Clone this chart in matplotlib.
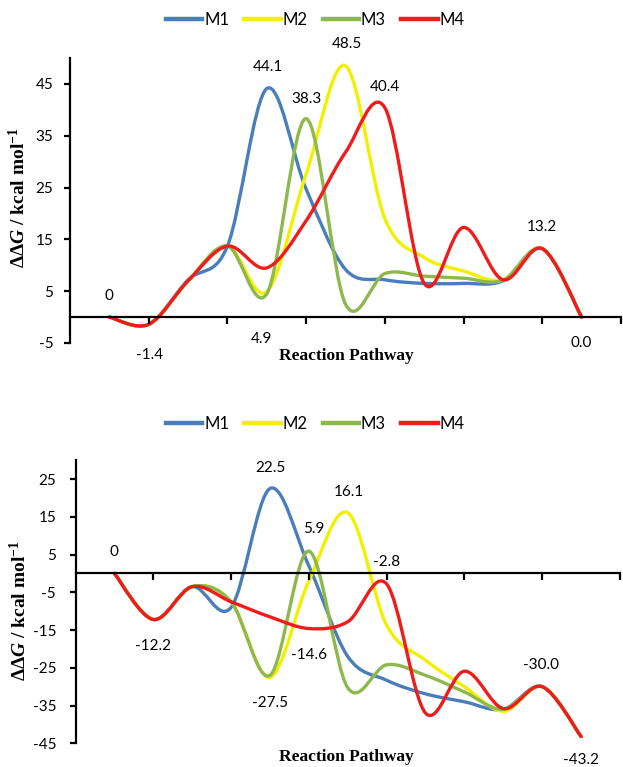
import matplotlib
matplotlib.use("Agg")
import matplotlib.pyplot as plt
import numpy as np
from matplotlib.path import Path
from matplotlib.patches import PathPatch
from matplotlib.lines import Line2D

# ---------------- data ----------------
series_names = ["M1", "M2", "M3", "M4"]
colors = ["#4A7EBB", "#F2F000", "#8DB84E", "#F01C1C"]

top_M1 = [0, -1.4, 7.2, 13.7, 44.1, 24.7, 9.2, 7.2, 6.5, 6.5, 7.0, 13.2, 0.0]
top_M2 = [0, -1.4, 7.0, 13.7, 4.9, 27.6, 48.5, 19.0, 11.5, 8.9, 7.2, 13.2, 0.0]
top_M3 = [0, -1.4, 7.0, 13.7, 4.5, 38.3, 2.5, 8.4, 7.9, 7.5, 7.1, 13.2, 0.0]
top_M4 = [0, -1.4, 7.0, 13.7, 9.5, 18.6, 31.8, 40.4, 6.5, 17.3, 7.2, 13.2, 0.0]

bot_M1 = [0, -12.2, -3.5, -9.0, 22.5, 2.0, -22.0, -28.3, -31.9, -34.0, -36.0, -30.0, -43.2]
bot_M2 = [0, -12.2, -3.5, -7.5, -27.5, -2.0, 16.1, -13.7, -23.0, -30.0, -36.5, -30.0, -43.2]
bot_M3 = [0, -12.2, -3.5, -7.5, -27.0, 5.9, -30.3, -24.2, -27.0, -31.4, -36.0, -30.0, -43.2]
bot_M4 = [0, -12.2, -3.5, -7.5, -11.5, -14.6, -12.8, -2.8, -37.0, -25.9, -35.8, -30.0, -43.2]

top_labels = [("0", 0, 4.1), ("-1.4", 1.03, -7.3), ("4.9", 3.87, -4.2), ("44.1", 4.03, 48.2),
              ("38.3", 5.0, 42.0), ("48.5", 6.03, 52.7), ("40.4", 7.0, 44.5),
              ("13.2", 11.0, 17.4), ("0.0", 12.0, -5.0)]
bot_labels = [("0", 0, 5.7), ("-12.2", 0.99, -19.3), ("22.5", 4.0, 28.0), ("16.1", 6.03, 21.6),
              ("5.9", 5.13, 11.7), ("-2.8", 6.99, 3.1), ("-14.6", 5.0, -21.7),
              ("-27.5", 4.0, -34.3), ("-30.0", 10.97, -24.3), ("-43.2", 11.99, -49.5)]

top_yticks = [-5, 5, 15, 25, 35, 45]
bot_yticks = [-45, -35, -25, -15, -5, 5, 15, 25]

# ---------------- style ----------------
plt.rcParams["mathtext.fontset"] = "custom"
plt.rcParams["mathtext.rm"] = "Liberation Serif:bold"
plt.rcParams["mathtext.bf"] = "Liberation Serif:bold"
plt.rcParams["mathtext.it"] = "Liberation Serif:italic:bold"
plt.rcParams["font.family"] = ["Lato", "DejaVu Sans"]

W, H = 623, 767
fig = plt.figure(figsize=(W / 100, H / 100), dpi=100)


def smooth_path(xs, ys):
    pts = np.column_stack([xs, ys]).astype(float)
    n = len(pts)
    verts = [pts[0]]
    codes = [Path.MOVETO]
    for i in range(n - 1):
        p_prev = pts[max(i - 1, 0)]
        p0 = pts[i]
        p1 = pts[i + 1]
        p_next = pts[min(i + 2, n - 1)]
        c1 = p0 + (p1 - p_prev) / 6.0
        c2 = p1 - (p_next - p0) / 6.0
        verts += [c1, c2, p1]
        codes += [Path.CURVE4] * 3
    return Path(verts, codes)


def make_panel(rect, data, ylim, yticks, labels, ypad, legend_y, label_xy):
    ax = fig.add_axes(rect)
    x = np.arange(len(data[0]))
    for ys, c in zip(data, colors):
        patch = PathPatch(smooth_path(x, ys), facecolor="none", edgecolor=c,
                          lw=2.4, capstyle="round", joinstyle="round")
        ax.add_patch(patch)
    ax.set_xlim(-1, 13)
    ax.set_ylim(*ylim)
    ax.set_yticks(yticks)
    ax.set_yticklabels([str(t) for t in yticks])
    ax.set_xticks([1, 3, 5, 7, 9, 11, 13])
    ax.set_xticklabels([])
    for s in ["top", "right"]:
        ax.spines[s].set_visible(False)
    ax.spines["bottom"].set_position(("data", 0))
    ax.spines["left"].set_linewidth(1.6)
    ax.spines["bottom"].set_linewidth(1.6)
    ax.tick_params(axis="y", direction="out", length=4, width=1.6, pad=ypad,
                   labelsize=11, colors="black")
    ax.tick_params(axis="x", direction="out", length=5, width=1.6)
    for txt, xx, yy in labels:
        ax.text(xx, yy, txt, ha="center", va="center", fontsize=11, clip_on=False)
    ax.set_ylabel(r"$\Delta\Delta G$ / kcal mol$^{-1}$", fontsize=14,
                  fontfamily="Liberation Serif", fontweight="bold")
    ax.yaxis.set_label_coords(*label_xy)
    handles = [Line2D([], [], color=c, lw=3.2) for c in colors]
    fig.legend(handles, series_names, loc="center", ncol=4, frameon=False,
               bbox_to_anchor=(315 / W, 1 - legend_y / H), fontsize=12,
               handlelength=2.2, handletextpad=0.1, columnspacing=0.9)
    return ax


ax1 = make_panel([70 / W, 1 - 343 / H, 551 / W, 285 / H],
                 [top_M1, top_M2, top_M3, top_M4], (-5, 50), top_yticks,
                 top_labels, 8, 20, (-0.075, 0.51))
fig.text(346 / W, 1 - 356 / H, "Reaction Pathway", ha="center", va="center",
         fontsize=12.5, fontfamily="Liberation Serif", fontweight="bold")

ax2 = make_panel([75.5 / W, 1 - 743.3 / H, 544.5 / W, 283.1 / H],
                 [bot_M1, bot_M2, bot_M3, bot_M4], (-45, 30), bot_yticks,
                 bot_labels, 10, 424, (-0.084, 0.47))
fig.text(346 / W, 1 - 757 / H, "Reaction Pathway", ha="center", va="center",
         fontsize=12.5, fontfamily="Liberation Serif", fontweight="bold")

fig.savefig("out.png", dpi=100)
